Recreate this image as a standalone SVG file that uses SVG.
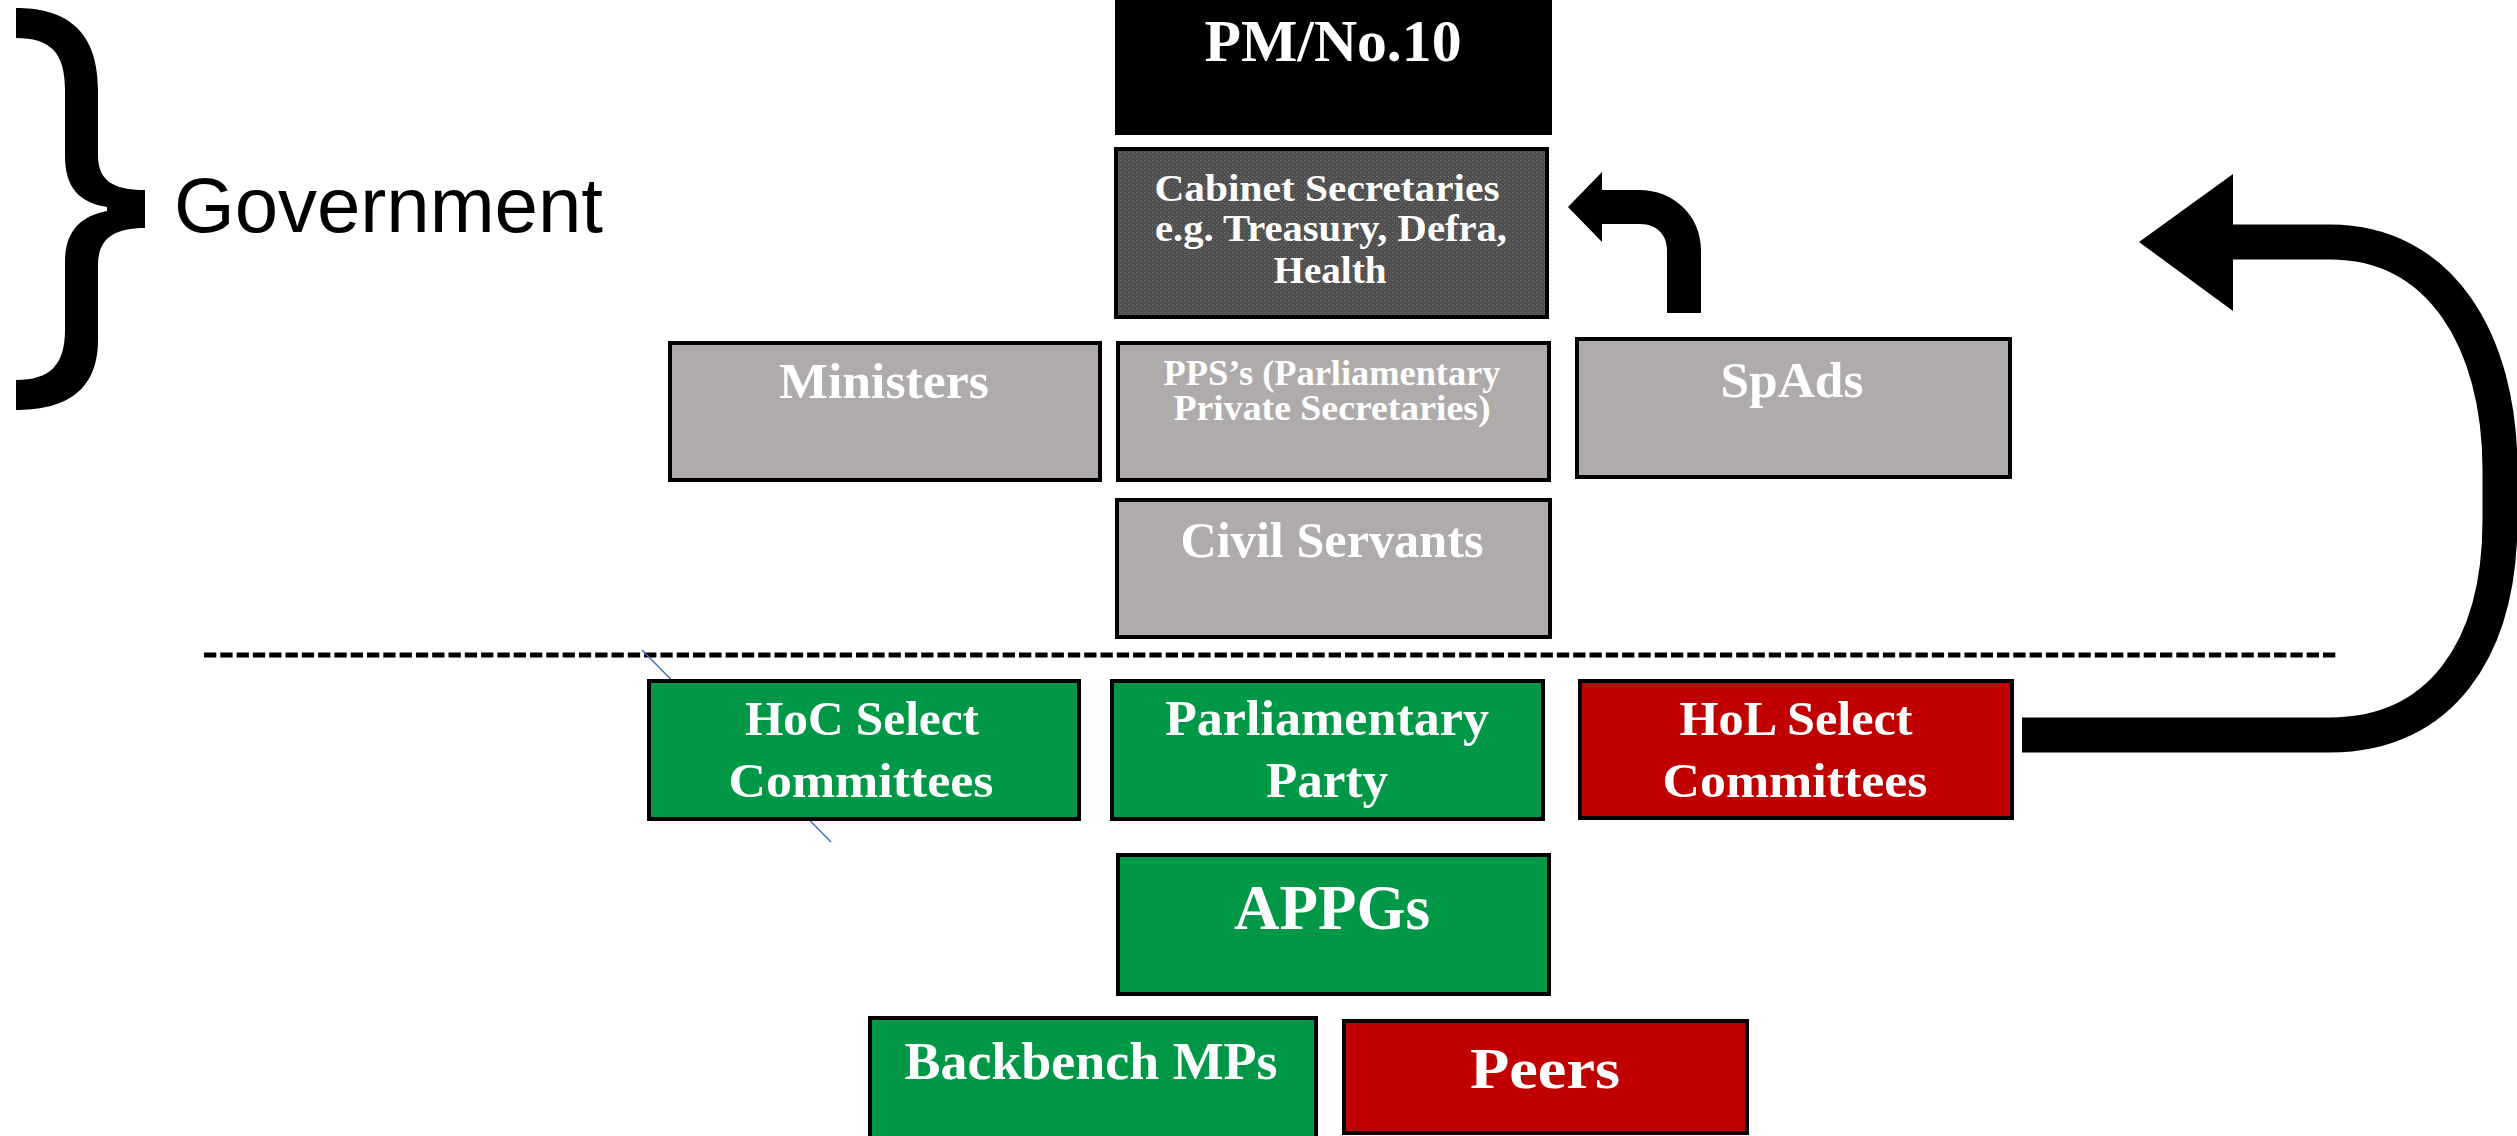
<svg xmlns="http://www.w3.org/2000/svg" width="2517" height="1136" viewBox="0 0 2517 1136">
<style>
.box{stroke:#000;stroke-width:4}
.gray{fill:#AEABAA}
.green{fill:#009746}
.red{fill:#C00000}
.t{font-family:"Liberation Serif","Times New Roman",serif;font-weight:bold;fill:#fff;text-anchor:middle}
</style>
<defs>
<pattern id="dots" width="4" height="4" patternUnits="userSpaceOnUse">
<rect width="4" height="4" fill="#4f4f4f"/>
<rect x="0" y="0" width="1" height="1" fill="#767676"/>
<rect x="2" y="2" width="1" height="1" fill="#6a6a6a"/>
</pattern>
</defs>
<rect width="2517" height="1136" fill="#fff"/>

<g id="government-brace">
<path d="M16,8 C60,8 98,25 98,90 L98,155 C98,180 112,190 145,190 L145,228 C112,228 98,240 98,265 L98,340 C98,395 60,410 16,410 L16,380 C50,380 65,365 65,330 L65,262 C65,232 80,216 107,211 L107,207 C80,203 65,188 65,156 L65,90 C65,52 50,38 16,38 Z" fill="#000"/>
<text x="174" y="232" font-family="Liberation Sans, Arial, sans-serif" font-size="78" fill="#000" textLength="429" lengthAdjust="spacingAndGlyphs">Government</text>
</g>

<g id="divider">
<line x1="204" y1="655" x2="2337" y2="655" stroke="#000" stroke-width="5" stroke-dasharray="12.3 4"/>
<line x1="642" y1="650" x2="831" y2="842" stroke="#4472C4" stroke-width="1.5"/>
</g>

<g id="pm">
<rect x="1115" y="0" width="437" height="135" fill="#000"/>
<text class="t" x="1333" y="61" font-size="60" textLength="257" lengthAdjust="spacingAndGlyphs">PM/No.10</text>
</g>

<g id="cabinet">
<rect class="box" x="1116" y="149" width="431" height="168" fill="url(#dots)"/>
<text class="t" x="1327" y="201" font-size="37" textLength="345" lengthAdjust="spacingAndGlyphs">Cabinet Secretaries</text>
<text class="t" x="1331" y="241" font-size="37" textLength="352" lengthAdjust="spacingAndGlyphs">e.g. Treasury, Defra,</text>
<text class="t" x="1330" y="283" font-size="37" textLength="113" lengthAdjust="spacingAndGlyphs">Health</text>
</g>

<g id="ministers">
<rect class="box gray" x="670" y="343" width="430" height="137"/>
<text class="t" x="884" y="398" font-size="51" textLength="210" lengthAdjust="spacingAndGlyphs">Ministers</text>
</g>

<g id="pps">
<rect class="box gray" x="1118" y="343" width="431" height="137"/>
<text class="t" x="1332" y="385" font-size="35" textLength="337" lengthAdjust="spacingAndGlyphs">PPS’s (Parliamentary</text>
<text class="t" x="1332" y="420" font-size="35" textLength="317" lengthAdjust="spacingAndGlyphs">Private Secretaries)</text>
</g>

<g id="spads">
<rect class="box gray" x="1577" y="339" width="433" height="138"/>
<text class="t" x="1792" y="397" font-size="51" textLength="143" lengthAdjust="spacingAndGlyphs">SpAds</text>
</g>

<g id="civil-servants">
<rect class="box gray" x="1117" y="500" width="433" height="137"/>
<text class="t" x="1332" y="557" font-size="50" textLength="303" lengthAdjust="spacingAndGlyphs">Civil Servants</text>
</g>

<g id="hoc">
<rect class="box green" x="649" y="681" width="430" height="138"/>
<text class="t" x="862" y="735" font-size="49" textLength="234" lengthAdjust="spacingAndGlyphs">HoC Select</text>
<text class="t" x="861" y="797" font-size="49" textLength="265" lengthAdjust="spacingAndGlyphs">Committees</text>
</g>

<g id="parliamentary-party">
<rect class="box green" x="1112" y="681" width="431" height="138"/>
<text class="t" x="1327" y="735" font-size="51" textLength="324" lengthAdjust="spacingAndGlyphs">Parliamentary</text>
<text class="t" x="1327" y="797" font-size="51" textLength="122" lengthAdjust="spacingAndGlyphs">Party</text>
</g>

<g id="hol">
<rect class="box red" x="1580" y="681" width="432" height="137"/>
<text class="t" x="1796" y="735" font-size="49" textLength="233" lengthAdjust="spacingAndGlyphs">HoL Select</text>
<text class="t" x="1795" y="797" font-size="49" textLength="265" lengthAdjust="spacingAndGlyphs">Committees</text>
</g>

<g id="appgs">
<rect class="box green" x="1118" y="855" width="431" height="139"/>
<text class="t" x="1332" y="929" font-size="64" textLength="196" lengthAdjust="spacingAndGlyphs">APPGs</text>
</g>

<g id="backbench">
<rect class="box green" x="870" y="1018" width="446" height="140"/>
<text class="t" x="1091" y="1079" font-size="52" textLength="373" lengthAdjust="spacingAndGlyphs">Backbench MPs</text>
</g>

<g id="peers">
<rect class="box red" x="1344" y="1021" width="403" height="112"/>
<text class="t" x="1545" y="1088" font-size="56" textLength="150" lengthAdjust="spacingAndGlyphs">Peers</text>
</g>

<g id="connectors">
<path d="M1568,207 L1602,172 L1602,190 L1639,190 C1674,190 1701,216 1701,250 L1701,313 L1667,313 L1667,250 C1667,235 1657,224 1640,224 L1602,224 L1602,242 Z" fill="#000"/>
<path d="M2022,735 L2330,735 C2440,735 2500,650 2500,520 L2500,470 C2500,340 2440,242 2330,242 L2225,242" fill="none" stroke="#000" stroke-width="35"/>
<polygon points="2139,242 2233,174 2233,311" fill="#000"/>
</g>
</svg>
